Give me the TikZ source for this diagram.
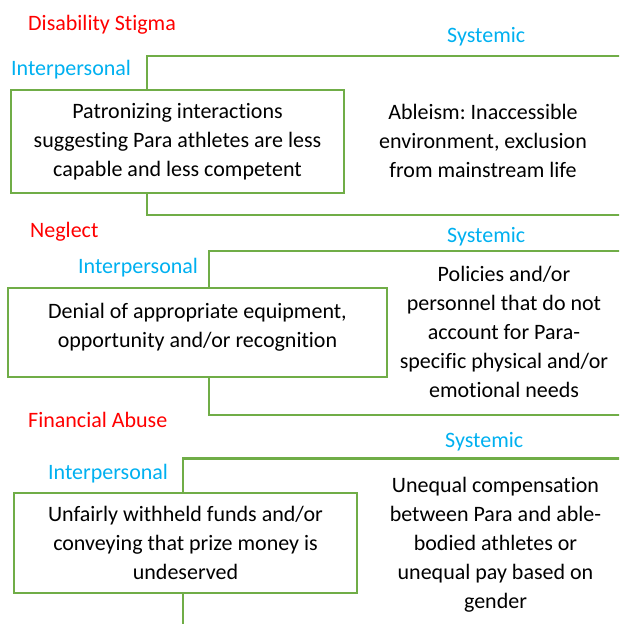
\documentclass[tikz,border=0pt]{standalone}
\usepackage{fontspec}
\setmainfont{Carlito}[Ligatures=NoCommon]
\frenchspacing
\definecolor{framegreen}{HTML}{70AD47}
\definecolor{levelblue}{HTML}{00B0F0}
\definecolor{typered}{HTML}{FF0000}
\newcommand\diagfont{\fontsize{22}{29}\selectfont}
\tikzset{
  greenline/.style={draw=framegreen,line width=2.2pt},
  abusetype/.style={font=\diagfont,text=typered,inner sep=0pt,anchor=base west},
  level/.style={font=\diagfont,text=levelblue,inner sep=0pt,anchor=base west},
  inbox/.style={greenline,fill=white,rectangle,inner sep=0pt,align=center,font=\diagfont},
  outtext/.style={inner sep=0pt,align=center,font=\diagfont}
}
\begin{document}
\begin{tikzpicture}[x=1pt,y=-1pt]
    \useasboundingbox (0,0) rectangle (619,624);
    \clip (0,0) rectangle (619,624);
    % disability stigma
    \node[abusetype](t1)at(28,30){Disability Stigma};
    \node[level](s1)at(447,42){Systemic};
    \node[level](i1)at(11,75){Interpersonal};
    \draw[greenline] (147,56) rectangle (650,215);
    \node[inbox,minimum width=333pt,minimum height=103pt](p1)at(177.5,141.5){Patronizing interactions\\suggesting Para athletes are less\\capable and less competent};
    \node[outtext](q1)at(483,141){Ableism: Inaccessible\\environment, exclusion\\from mainstream life};
    % neglect
    \node[abusetype](t2)at(30,237){Neglect};
    \node[level](s2)at(447,242){Systemic};
    \node[level](i2)at(78,273){Interpersonal};
    \draw[greenline] (209,251) rectangle (650,415);
    \node[inbox,minimum width=379pt,minimum height=89pt](p2)at(197.5,332.5){};
    \node[outtext](r2)at(197.5,327.5){Denial of appropriate equipment,\\opportunity and/or recognition};
    \node[outtext](q2)at(504,331.5){Policies and/or\\personnel that do not\\account for Para-\\specific physical and/or\\emotional needs};
    % financial abuse
    \node[abusetype](t3)at(28,427.5){Financial Abuse};
    \node[level](s3)at(445,447){Systemic};
    \node[level](i3)at(48,479){Interpersonal};
    \draw[greenline] (183,458.5) rectangle (650,650);
    \node[inbox,minimum width=343pt,minimum height=100pt](p3)at(185.5,543){Unfairly withheld funds and/or\\conveying that prize money is\\undeserved};
    \node[outtext](q3)at(495.5,544.5){Unequal compensation\\between Para and able-\\bodied athletes or\\unequal pay based on\\gender};
\end{tikzpicture}
\end{document}
